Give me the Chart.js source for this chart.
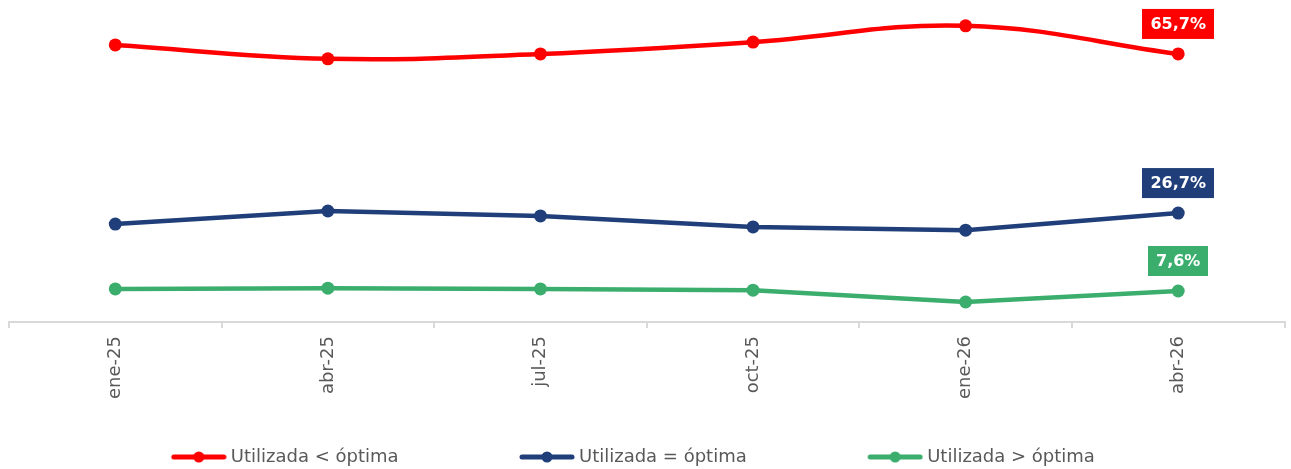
<!DOCTYPE html>
<html>
<head>
<meta charset="utf-8">
<script src="https://cdn.jsdelivr.net/npm/chart.js@4"></script>
<style>
  html, body { margin: 0; padding: 0; background: #fff; }
  #wrap { width: 1291px; height: 469px; }
</style>
</head>
<body>
<div id="wrap"><canvas id="chart"></canvas></div>
<script>
// datos
const labels = ['ene-25', 'abr-25', 'jul-25', 'oct-25', 'ene-26', 'abr-26'];
const menorOptima = [67.9, 64.5, 65.7, 68.6, 72.6, 65.7];
const igualOptima = [24.0, 27.2, 26.0, 23.3, 22.5, 26.7];
const mayorOptima = [8.1, 8.3, 8.1, 7.8, 4.9, 7.6];

const ROJO = '#FF0000';
const AZUL = '#203F7A';
const VERDE = '#3BAE6E';
const GRIS = '#595959';
const FONT = '"DejaVu Sans", sans-serif';

// icono de leyenda: línea con punto (56 px de línea, sobresale 5 px a cada lado)
function legendIcon(color) {
    const c = document.createElement('canvas');
    c.width = 66; c.height = 12;
    const g = c.getContext('2d');
    g.strokeStyle = color;
    g.lineWidth = 5;
    g.lineCap = 'round';
    g.beginPath(); g.moveTo(13, 6); g.lineTo(63, 6); g.stroke();
    g.fillStyle = color;
    g.beginPath(); g.arc(38, 6, 5.5, 0, Math.PI * 2); g.fill();
    return c;
}

// etiqueta del último punto de cada serie
const lastLabel = {
    id: 'lastLabel',
    afterDatasetsDraw(chart) {
        const ctx = chart.ctx;
        chart.data.datasets.forEach((ds, i) => {
            const meta = chart.getDatasetMeta(i);
            const pt = meta.data[meta.data.length - 1];
            const val = ds.data[ds.data.length - 1];
            const txt = val.toFixed(1).replace('.', ',') + '%';
            ctx.save();
            ctx.font = 'bold 16px ' + FONT;
            const w = ctx.measureText(txt).width + 16;
            const h = 30;
            const bottom = pt.y - 15;
            ctx.fillStyle = ds.borderColor;
            ctx.fillRect(Math.round(pt.x - w / 2), bottom - h, Math.round(w), h);
            ctx.fillStyle = '#fff';
            ctx.textAlign = 'center';
            ctx.textBaseline = 'middle';
            ctx.fillText(txt, pt.x, bottom - h / 2 + 1);
            ctx.restore();
        });
    }
};

function serie(label, data, color, tension) {
    return {
        label: label,
        data: data,
        borderColor: color,
        backgroundColor: color,
        borderWidth: 4.5,
        pointRadius: 6.5,
        pointHoverRadius: 6.5,
        pointBackgroundColor: color,
        pointBorderWidth: 0,
        tension: tension
    };
}

const chart = new Chart(document.getElementById('chart'), {
    type: 'line',
    data: {
        labels: labels,
        datasets: [
            serie('Utilizada < óptima', menorOptima, ROJO, 0.4),
            serie('Utilizada = óptima', igualOptima, AZUL, 0),
            serie('Utilizada > óptima', mayorOptima, VERDE, 0)
        ]
    },
    options: {
        responsive: true,
        maintainAspectRatio: false,
        animation: false,
        layout: { padding: { top: 16, left: 9, right: 5, bottom: -7 } },
        plugins: {
            tooltip: { enabled: false },
            legend: {
                position: 'bottom',
                labels: {
                    usePointStyle: true,
                    pointStyleWidth: 56,
                    boxHeight: 12,
                    padding: 1,
                    color: GRIS,
                    font: { family: FONT, size: 18 },
                    generateLabels(chart) {
                        const n = chart.data.datasets.length;
                        return chart.data.datasets.map((ds, i) => ({
                            // espacios al final para separar los elementos como en el original
                            text: ds.label + ' '.repeat(i < n - 1 ? 20 : 6),
                            pointStyle: legendIcon(ds.borderColor),
                            fillStyle: ds.borderColor,
                            strokeStyle: ds.borderColor,
                            lineWidth: 0,
                            fontColor: GRIS,
                            datasetIndex: i,
                            hidden: false
                        }));
                    }
                }
            }
        },
        scales: {
            x: {
                offset: true,
                afterFit(scale) { scale.height = 125; },
                border: { color: '#D9D9D9', width: 2 },
                grid: {
                    offset: true,
                    drawOnChartArea: false,
                    drawTicks: true,
                    tickLength: 6,
                    color: '#D9D9D9',
                    lineWidth: 2
                },
                ticks: {
                    color: GRIS,
                    font: { family: FONT, size: 18 },
                    minRotation: 90,
                    maxRotation: 90,
                    padding: 8
                }
            },
            y: {
                display: false,
                min: 0,
                max: 75
            }
        }
    },
    plugins: [lastLabel]
});
</script>
</body>
</html>
